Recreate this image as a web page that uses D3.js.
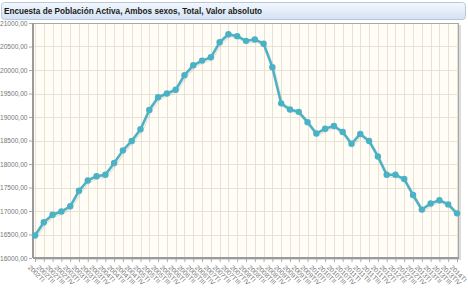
<!DOCTYPE html>
<html>
<head>
<meta charset="utf-8">
<script src="https://cdn.jsdelivr.net/npm/d3@7"></script>
<style>
  body { margin: 0; background: #fff; }
  svg { display: block; font-family: Arial, "Liberation Sans", sans-serif; }
</style>
</head>
<body>
<div id="chart"></div>
<script>
// Data
var years = ['2002','2003','2004','2005','2006','2007','2008','2009','2010','2011','2012','2013','2014'];
var quarters = ['I','II','III','IV'];
var periods = [];
years.forEach(function(y) { quarters.forEach(function(q) { periods.push(y + 'T' + q); }); });
periods = periods.slice(0, 49);

var ocupados = [
  16480, 16760, 16920, 16990, 17100, 17430, 17650, 17740,
  17770, 18020, 18290, 18490, 18740, 19150, 19420, 19500,
  19580, 19890, 20100, 20200, 20270, 20590, 20760, 20720,
  20620, 20650, 20560, 20060, 19290, 19160, 19110, 18890,
  18650, 18750, 18810, 18680, 18430, 18640, 18490, 18160,
  17770, 17770, 17680, 17340, 17030, 17160, 17230, 17140,
  16950
];
var yTicks = [16000, 16500, 17000, 17500, 18000, 18500, 19000, 19500, 20000, 20500, 21000];

var width = 468, height = 292;
var plot = { left: 33, right: 459, top: 23, bottom: 258 };
var lineColor = '#4bb2c5';

var svg = d3.select('#chart').append('svg')
  .attr('width', width)
  .attr('height', height);

var defs = svg.append('defs');
var grad = defs.append('linearGradient').attr('id', 'titlebg')
  .attr('x1', 0).attr('y1', 0).attr('x2', 0).attr('y2', 1);
grad.append('stop').attr('offset', '0%').attr('stop-color', '#f4f8fd');
grad.append('stop').attr('offset', '100%').attr('stop-color', '#d3e1f3');

// Title bar
svg.append('rect')
  .attr('x', 1.5).attr('y', 2.5)
  .attr('width', 464).attr('height', 17)
  .attr('rx', 3)
  .attr('fill', 'url(#titlebg)')
  .attr('stroke', '#b7c8de');
svg.append('text')
  .attr('x', 4).attr('y', 14)
  .attr('font-size', 8.2)
  .attr('font-weight', 'bold')
  .attr('fill', '#1a1a1a')
  .text('Encuesta de Población Activa, Ambos sexos, Total, Valor absoluto');

// Scales
var x = d3.scalePoint()
  .domain(periods)
  .range([35, 457]);
var y = d3.scaleLinear()
  .domain([16000, 21000])
  .range([plot.bottom, plot.top]);

// Plot background with shadow
svg.append('rect')
  .attr('x', plot.left + 2).attr('y', plot.top + 2)
  .attr('width', plot.right - plot.left).attr('height', plot.bottom - plot.top)
  .attr('fill', '#dcdcdc');
svg.append('rect')
  .attr('x', plot.left).attr('y', plot.top)
  .attr('width', plot.right - plot.left).attr('height', plot.bottom - plot.top)
  .attr('fill', '#fffdf6');

// Grid
var grid = svg.append('g');
grid.selectAll('line.v')
  .data(periods)
  .enter().append('line')
    .attr('class', 'v')
    .attr('x1', function(d) { return Math.round(x(d)) + 0.5; })
    .attr('x2', function(d) { return Math.round(x(d)) + 0.5; })
    .attr('y1', plot.top).attr('y2', plot.bottom)
    .attr('stroke', '#e6e2d4');
grid.selectAll('line.h')
  .data(yTicks)
  .enter().append('line')
    .attr('class', 'h')
    .attr('x1', plot.left).attr('x2', plot.right)
    .attr('y1', function(d) { return Math.round(y(d)) + 0.5; })
    .attr('y2', function(d) { return Math.round(y(d)) + 0.5; })
    .attr('stroke', '#e6e2d4');

// Border
svg.append('rect')
  .attr('x', plot.left + 0.5).attr('y', plot.top + 0.5)
  .attr('width', plot.right - plot.left - 1).attr('height', plot.bottom - plot.top - 1)
  .attr('fill', 'none')
  .attr('stroke', '#a8a8a8');
svg.append('line')
  .attr('x1', plot.left).attr('x2', plot.left)
  .attr('y1', plot.top).attr('y2', plot.bottom)
  .attr('stroke', '#9a9a9a').attr('stroke-width', 2);
svg.append('line')
  .attr('x1', plot.left).attr('x2', plot.right)
  .attr('y1', plot.bottom).attr('y2', plot.bottom)
  .attr('stroke', '#9a9a9a').attr('stroke-width', 2);

// Y axis
var yAxis = d3.axisLeft(y)
  .tickValues(yTicks)
  .tickSize(3)
  .tickPadding(1.5)
  .tickFormat(function(d) { return d + ',00'; });
var gy = svg.append('g')
  .attr('transform', 'translate(' + (plot.left - 1) + ',0)')
  .call(yAxis);
gy.select('.domain').remove();
gy.selectAll('line').attr('stroke', '#aaa');
gy.selectAll('text').attr('font-size', 6.6).attr('fill', '#777');

// X axis
var xAxis = d3.axisBottom(x).tickSize(3).tickPadding(2);
var gx = svg.append('g')
  .attr('transform', 'translate(0,' + (plot.bottom + 1) + ')')
  .call(xAxis);
gx.select('.domain').remove();
gx.selectAll('line').attr('stroke', '#aaa');
gx.selectAll('text')
  .attr('font-size', 6.6)
  .attr('fill', '#777')
  .attr('text-anchor', 'start')
  .attr('dy', '0.3em')
  .attr('transform', 'translate(-3,4) rotate(45)');

// Line with shadow
var line = d3.line()
  .x(function(d, i) { return x(periods[i]); })
  .y(function(d) { return y(d); });

svg.append('path')
  .datum(ocupados)
  .attr('d', line)
  .attr('transform', 'translate(1,1.5)')
  .attr('fill', 'none')
  .attr('stroke', 'rgba(0,0,0,0.08)')
  .attr('stroke-width', 3.5);
svg.append('path')
  .datum(ocupados)
  .attr('d', line)
  .attr('fill', 'none')
  .attr('stroke', lineColor)
  .attr('stroke-width', 2.5)
  .attr('stroke-linejoin', 'round');

svg.selectAll('circle.pt')
  .data(ocupados)
  .enter().append('circle')
    .attr('class', 'pt')
    .attr('cx', function(d, i) { return x(periods[i]); })
    .attr('cy', function(d) { return y(d); })
    .attr('r', 3.2)
    .attr('fill', lineColor);
</script>
</body>
</html>
